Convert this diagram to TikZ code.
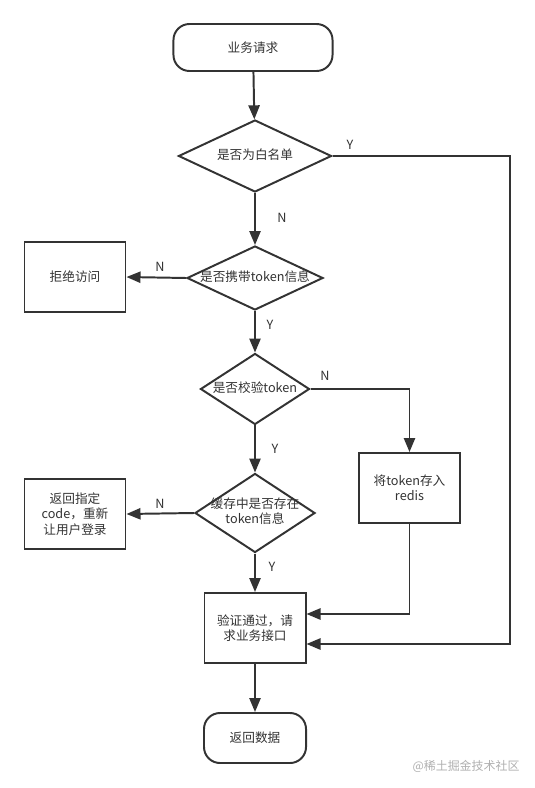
\documentclass[tikz,border=0pt]{standalone}
\usepackage{fontspec}
\setmainfont{Noto Sans CJK SC}
\usepackage{tikz}
\usetikzlibrary{positioning,calc,shapes.geometric,arrows.meta}
\definecolor{LineGray}{RGB}{51,51,51}
\definecolor{MarkGray}{RGB}{175,175,175}
% text kept out of the diamond's size
\newcommand{\dtext}[1]{\makebox[0pt]{\begin{tabular}{@{}c@{}}#1\end{tabular}}}

\begin{document}
\begin{tikzpicture}[x=0.025cm, y=-0.025cm,
                % Node styles
                termnode/.style={rectangle, rounded corners=0.4cm, draw=LineGray, line width=1.4pt, text=LineGray, font=\fontsize{9}{11}\selectfont, inner sep=0pt},
                decnode/.style={diamond, draw=LineGray, line width=1.4pt, text=LineGray, font=\fontsize{9}{11}\selectfont, inner sep=0pt},
                procnode/.style={rectangle, draw=LineGray, line width=1.4pt, text=LineGray, font=\fontsize{9}{11}\selectfont, align=center, minimum width=2.525cm, minimum height=1.75cm, inner sep=0pt},
                % Edge styles
                edge/.style={draw=LineGray, line width=1.4pt},
                arrowedge/.style={edge, -{Triangle[length=0.35cm, width=0.28cm]}},
                % Y/N labels
                ynlabel/.style={text=LineGray, font=\fontsize{9}{11}\selectfont, inner sep=1pt}
            ]
                \useasboundingbox (0,0) rectangle (534,788);

                % --- NODES ---
                % Start
                \node[termnode, minimum width=3.975cm, minimum height=1.175cm] (start) at (253, 47.5) {业务请求};

                % Decisions on the main column
                \node[decnode, minimum width=3.825cm, minimum height=1.8cm] (white) at (255, 156) {\dtext{是否为白名单}};
                \node[decnode, minimum width=3.4cm, minimum height=1.6cm] (carry) at (255, 278) {\dtext{是否携带token信息}};
                \node[decnode, minimum width=2.725cm, minimum height=1.775cm] (check) at (255, 389) {\dtext{是否校验token}};
                \node[decnode, minimum width=3cm, minimum height=1.975cm] (cache) at (255, 513) {\dtext{缓存中是否存在\\token信息}};

                % Side boxes
                \node[procnode] (reject) at (75, 277) {拒绝访问};
                \node[procnode] (relogin) at (75, 514) {返回指定\\code，重新\\让用户登录};
                \node[procnode] (store) at (409.5, 488) {将token存入\\redis};

                % Pass and end
                \node[procnode] (pass) at (255, 628) {验证通过，请\\求业务接口};
                \node[termnode, minimum width=2.55cm, minimum height=1.25cm] (finish) at (255, 738) {返回数据};

                % Corner of the long Y line
                \coordinate (rightturn) at (510, 156);

                % --- EDGES ---
                \draw[arrowedge] (start) -- (white);
                \draw[arrowedge] (white) -- (carry);
                \draw[arrowedge] (carry.west) -- (reject.east);
                \draw[arrowedge] (carry) -- (check);
                \draw[arrowedge] (check.east) -| (store.north);
                \draw[arrowedge] (check) -- (cache);
                \draw[arrowedge] (cache.west) -- (relogin.east);
                \draw[arrowedge] (cache) -- (pass);
                \draw[arrowedge] (store.south) |- ($(pass.east)+(0,-14)$);
                \draw[arrowedge] (white.east) -- (rightturn) |- ($(pass.east)+(0,16)$);
                \draw[arrowedge] (pass) -- (finish);

                % --- LABELS ---
                \node[ynlabel] (yw) at (350, 145) {Y};
                \node[ynlabel] (nw) at (282, 218) {N};
                \node[ynlabel] (nc) at (160, 267) {N};
                \node[ynlabel] (yc) at (270, 325) {Y};
                \node[ynlabel] (nk) at (325, 376) {N};
                \node[ynlabel] (yk) at (275, 449) {Y};
                \node[ynlabel] (nh) at (160, 504) {N};
                \node[ynlabel] (yh) at (272, 567) {Y};

                % Watermark
                \node[text=MarkGray, font=\fontsize{8.5}{10}\selectfont, inner sep=0pt] (mark) at (466, 766) {@稀土掘金技术社区};

            \end{tikzpicture}
\end{document}
